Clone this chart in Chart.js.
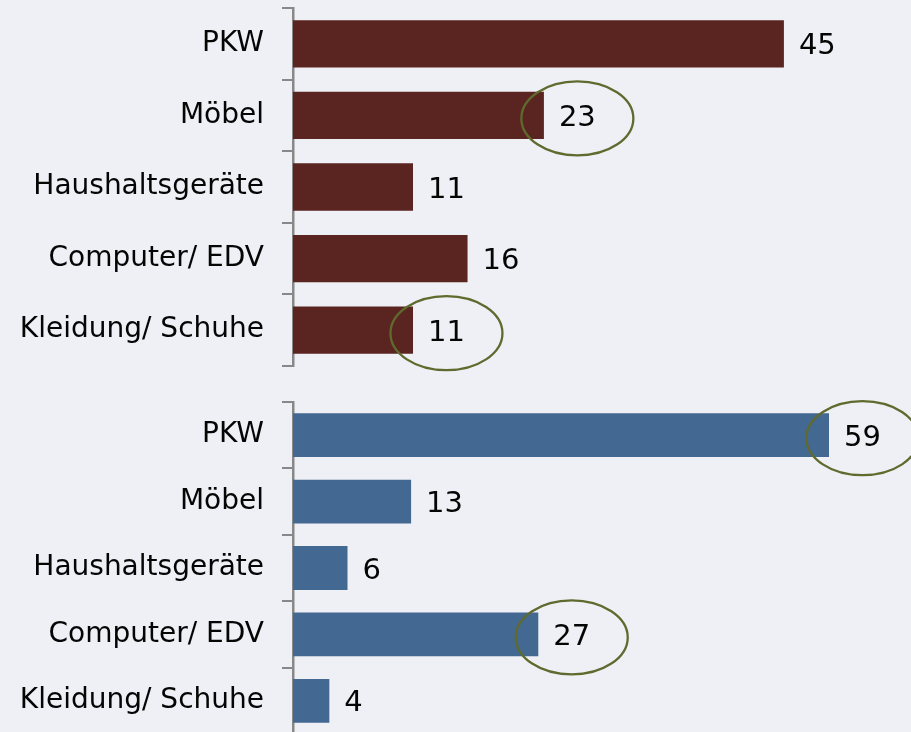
<!DOCTYPE html>
<html>
<head>
<meta charset="utf-8">
<script src="https://cdn.jsdelivr.net/npm/chart.js@4.4.0/dist/chart.umd.min.js"></script>
<style>
  html, body { margin: 0; padding: 0; background: #eff0f5; overflow: hidden; }
  body { width: 911px; height: 732px; position: relative; }
  .box { position: absolute; left: 0; width: 911px; }
  #topBox { top: 0; height: 375px; }
  #bottomBox { top: 395px; height: 345px; }
</style>
</head>
<body>
<div class="box" id="topBox"><canvas id="topChart"></canvas></div>
<div class="box" id="bottomBox"><canvas id="bottomChart"></canvas></div>
<script>
const categories = ['PKW', 'Möbel', 'Haushaltsgeräte', 'Computer/ EDV', 'Kleidung/ Schuhe'];
const topValues = [45, 23, 11, 16, 11];
const bottomValues = [59, 13, 6, 27, 4];
// indices of values with a circle round them
const topCircled = [1, 4];
const bottomCircled = [0, 3];

const FONT = '"DejaVu Sans", sans-serif';

// value labels + ellipses
const labelPlugin = {
  id: 'valueLabels',
  afterDatasetsDraw(chart, args, opts) {
    const ctx = chart.ctx;
    const meta = chart.getDatasetMeta(0);
    const values = chart.data.datasets[0].data;
    ctx.save();
    ctx.font = '29px ' + FONT;
    ctx.textBaseline = 'middle';
    ctx.textAlign = 'left';
    meta.data.forEach((bar, i) => {
      const txt = String(values[i]);
      const x = bar.x + 15;
      ctx.fillStyle = '#050505';
      ctx.fillText(txt, x, bar.y + 3);
      if (opts.circled.includes(i)) {
        const w = ctx.measureText(txt).width;
        ctx.beginPath();
        ctx.ellipse(x + w / 2, bar.y + 3, 56, 37, 0, 0, Math.PI * 2);
        ctx.strokeStyle = '#5f6a2e';
        ctx.lineWidth = 2.3;
        ctx.stroke();
      }
    });
    ctx.restore();
  }
};

function makeChart(id, values, color, xMax, pad, circled) {
  const ctx = document.getElementById(id).getContext('2d');
  return new Chart(ctx, {
    type: 'bar',
    data: {
      labels: categories,
      datasets: [{
        data: values,
        backgroundColor: color,
        borderWidth: 0,
        barPercentage: 0.66,
        categoryPercentage: 1.0,
      }],
    },
    options: {
      indexAxis: 'y',
      responsive: true,
      maintainAspectRatio: false,
      animation: false,
      layout: { padding: pad },
      plugins: {
        legend: { display: false },
        tooltip: { enabled: false },
        valueLabels: { circled },
      },
      scales: {
        x: { display: false, min: 0, max: xMax },
        y: {
          afterFit: (scale) => {
            scale.width = 293;
            scale.paddingTop = 0;
            scale.paddingBottom = 0;
          },
          border: { display: true, color: '#888888', width: 2.5 },
          grid: {
            display: true,
            drawOnChartArea: false,
            drawTicks: true,
            tickLength: 11,
            color: '#888888',
            lineWidth: 2,
            offset: true,
          },
          ticks: {
            color: '#050505',
            padding: 18,
            font: { family: FONT, size: 28 },
          },
        },
      },
    },
    plugins: [labelPlugin],
  });
}

makeChart('topChart', topValues, '#5a2520', 55, { top: 8, bottom: 9, left: 0, right: 18 }, topCircled);
makeChart('bottomChart', bottomValues, '#436891', 65, { top: 7, bottom: 6, left: 0, right: 27.5 }, bottomCircled);
</script>
</body>
</html>
